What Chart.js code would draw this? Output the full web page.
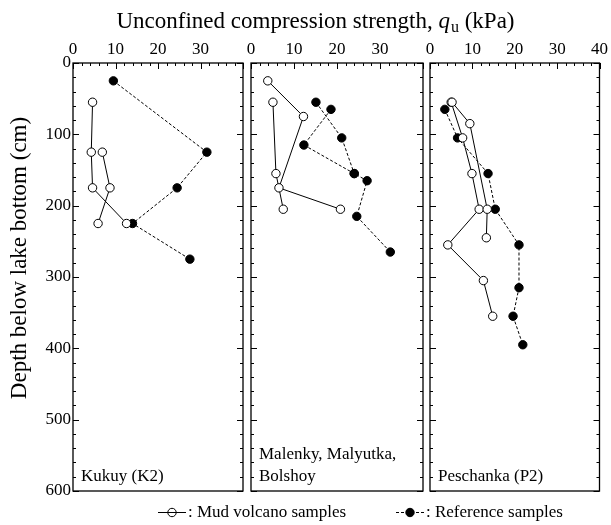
<!DOCTYPE html>
<html>
<head>
<meta charset="utf-8">
<script src="https://cdn.jsdelivr.net/npm/chart.js@4"></script>
<style>
  body { margin: 0; background: #fff; }
  #wrap { position: relative; width: 611px; height: 525px; }
  #wrap canvas { position: absolute; left: 0; top: 0; }
</style>
</head>
<body>
<div id="wrap">
  <canvas id="p1" width="611" height="525"></canvas>
  <canvas id="p2" width="611" height="525"></canvas>
  <canvas id="p3" width="611" height="525"></canvas>
</div>
<script>
// axis ticks
const quTicks = [0, 10, 20, 30, 40];
const depthTicks = [0, 100, 200, 300, 400, 500, 600];

// Kukuy (K2)
const k2MudDepthA = [55, 125, 175, 225];
const k2MudQuA = [4.6, 4.3, 4.6, 12.6];
const k2MudDepthB = [125, 175, 225];
const k2MudQuB = [6.9, 8.7, 5.9];
const k2RefDepth = [25, 125, 175, 225, 275];
const k2RefQu = [9.5, 31.5, 24.5, 14, 27.5];

// Malenky, Malyutka, Bolshoy
const mmbMudDepthA = [25, 75, 175, 205];
const mmbMudQuA = [3.9, 12.2, 6.5, 20.8];
const mmbMudDepthB = [55, 155, 205];
const mmbMudQuB = [5.1, 5.8, 7.5];
const mmbRefDepthA = [55, 105, 155];
const mmbRefQuA = [15.1, 21.1, 24];
const mmbRefDepthB = [65, 115, 155, 165, 215, 265];
const mmbRefQuB = [18.6, 12.3, 24, 27, 24.6, 32.4];

// Peschanka (P2)
const p2MudDepthA = [55, 85, 205, 245];
const p2MudQuA = [5.2, 9.4, 13.5, 13.3];
const p2MudDepthB = [55, 105, 155, 205, 255, 305, 355];
const p2MudQuB = [5.0, 7.7, 9.9, 11.6, 4.2, 12.6, 14.8];
const p2RefDepth = [65, 105, 155, 205, 255, 315, 355, 395];
const p2RefQu = [3.5, 6.5, 13.7, 15.4, 21, 21, 19.6, 21.9];

const serif = '"Liberation Serif", "Times New Roman", serif';

function pts(qu, depth) {
    return qu.map((q, i) => ({ x: q, y: depth[i] }));
}

function mud(qu, depth) {
    return {
        label: 'Mud volcano samples',
        data: pts(qu, depth),
        borderColor: '#000',
        borderWidth: 1,
        pointRadius: 4.2,
        pointBorderWidth: 1,
        pointBackgroundColor: '#fff',
        pointBorderColor: '#000',
        tension: 0
    };
}

function ref(qu, depth) {
    return {
        label: 'Reference samples',
        data: pts(qu, depth),
        borderColor: '#000',
        borderWidth: 1,
        borderDash: [3, 2],
        pointRadius: 4.2,
        pointBorderWidth: 1,
        pointBackgroundColor: '#000',
        pointBorderColor: '#000',
        tension: 0
    };
}

// box + inward ticks + site name
const frame = {
    id: 'frame',
    afterDatasetsDraw(chart) {
        const { ctx, chartArea: a, scales: { x, y } } = chart;
        ctx.save();
        ctx.strokeStyle = '#000';
        ctx.lineWidth = 1.3;
        ctx.strokeRect(a.left, a.top, a.right - a.left, a.bottom - a.top);
        ctx.lineWidth = 1;
        ctx.beginPath();
        for (let v = 0; v <= 40; v += 2) {
            const px = Math.round(x.getPixelForValue(v)) + 0.5;
            const len = v % 10 === 0 ? 6 : 3;
            ctx.moveTo(px, a.top);
            ctx.lineTo(px, a.top + len);
        }
        for (let d = 0; d <= 600; d += 20) {
            const py = Math.round(y.getPixelForValue(d)) + 0.5;
            const len = d % 100 === 0 ? 6 : 3;
            ctx.moveTo(a.left, py);
            ctx.lineTo(a.left + len, py);
            ctx.moveTo(a.right, py);
            ctx.lineTo(a.right - len, py);
        }
        ctx.stroke();

        const lines = chart.options.plugins.frame.lines;
        ctx.fillStyle = '#000';
        ctx.font = '17px ' + serif;
        ctx.textBaseline = 'alphabetic';
        lines.forEach((t, i) => {
            ctx.fillText(t, a.left + 8, a.bottom - 10 - (lines.length - 1 - i) * 22);
        });
        ctx.restore();
    }
};

// overall titles and legend, drawn once on the first panel
const decor = {
    id: 'decor',
    afterDraw(chart) {
        const ctx = chart.ctx;
        ctx.save();
        ctx.fillStyle = '#000';
        ctx.textBaseline = 'alphabetic';
        const big = '23px ' + serif;
        const ital = 'italic 23px ' + serif;
        const sub = '16px ' + serif;
        const t1 = 'Unconfined compression strength, ';
        const t2 = ' (kPa)';
        ctx.font = big; const w1 = ctx.measureText(t1).width, w3 = ctx.measureText(t2).width;
        ctx.font = ital; const wq = ctx.measureText('q').width;
        ctx.font = sub; const wu = ctx.measureText('u').width;
        let x0 = 315 - (w1 + wq + wu + w3) / 2;
        const base = 28;
        ctx.font = big; ctx.fillText(t1, x0, base); x0 += w1;
        ctx.font = ital; ctx.fillText('q', x0, base); x0 += wq;
        ctx.font = sub; ctx.fillText('u', x0 + 1, base + 4); x0 += wu + 1;
        ctx.font = big; ctx.fillText(t2, x0, base);

        // y title
        ctx.save();
        ctx.translate(20, 258);
        ctx.rotate(-Math.PI / 2);
        ctx.textAlign = 'center';
        ctx.textBaseline = 'middle';
        ctx.font = '23px ' + serif;
        ctx.fillText('Depth below lake bottom (cm)', 0, 0);
        ctx.restore();

        // legend
        const ly = 512;
        const ds = chart.data.datasets;
        const mudDs = ds.find(d => d.label === 'Mud volcano samples');
        const refDs = ds.find(d => d.label === 'Reference samples');
        ctx.font = '17px ' + serif;
        ctx.textBaseline = 'middle';
        const items = [[mudDs, 158, 186], [refDs, 396, 424]];
        for (const [d, xa, xb] of items) {
            ctx.strokeStyle = d.borderColor;
            ctx.lineWidth = 1;
            ctx.setLineDash(d.borderDash || []);
            ctx.beginPath(); ctx.moveTo(xa, ly + 0.5); ctx.lineTo(xb, ly + 0.5); ctx.stroke();
            ctx.setLineDash([]);
            ctx.beginPath(); ctx.arc((xa + xb) / 2, ly + 0.5, d.pointRadius, 0, Math.PI * 2);
            if (d.pointBackgroundColor === '#000') { ctx.fillStyle = '#000'; ctx.fill(); }
            ctx.stroke();
            ctx.fillStyle = '#000';
            ctx.fillText(': ' + d.label, xb + 2, ly + 1);
        }
        ctx.restore();
    }
};

function panel(id, datasets, left, right, lines, first, last) {
    return new Chart(document.getElementById(id), {
        type: 'line',
        data: { datasets: datasets },
        plugins: first ? [frame, decor] : [frame],
        options: {
            responsive: false,
            animation: false,
            layout: { padding: { left: first ? 0 : left, right: 611 - right, top: 0, bottom: 34 } },
            plugins: {
                legend: { display: false },
                tooltip: { enabled: false },
                frame: { lines: lines }
            },
            scales: {
                x: {
                    type: 'linear',
                    position: 'top',
                    min: 0,
                    max: 40,
                    afterBuildTicks: s => { s.ticks = quTicks.map(v => ({ value: v })); },
                    afterFit: s => { s.height = 63; },
                    ticks: {
                        color: '#000',
                        font: { family: serif, size: 17 },
                        padding: 3,
                        maxRotation: 0,
                        callback: v => (v === 40 && !last) ? '' : String(v)
                    },
                    grid: { display: false, drawTicks: false },
                    border: { display: false }
                },
                y: {
                    type: 'linear',
                    display: first,
                    reverse: true,
                    min: 0,
                    max: 600,
                    afterBuildTicks: s => { s.ticks = depthTicks.map(v => ({ value: v })); },
                    afterFit: s => { if (first) s.width = left; },
                    ticks: {
                        color: '#000',
                        font: { family: serif, size: 17 },
                        padding: 2
                    },
                    grid: { display: false, drawTicks: false },
                    border: { display: false }
                }
            }
        }
    });
}

panel('p1', [mud(k2MudQuA, k2MudDepthA), mud(k2MudQuB, k2MudDepthB), ref(k2RefQu, k2RefDepth)],
      73, 243, ['Kukuy (K2)'], true, false);
panel('p2', [mud(mmbMudQuA, mmbMudDepthA), mud(mmbMudQuB, mmbMudDepthB),
             ref(mmbRefQuA, mmbRefDepthA), ref(mmbRefQuB, mmbRefDepthB)],
      251, 423, ['Malenky, Malyutka,', 'Bolshoy'], false, false);
panel('p3', [mud(p2MudQuA, p2MudDepthA), mud(p2MudQuB, p2MudDepthB), ref(p2RefQu, p2RefDepth)],
      430, 603, ['Peschanka (P2)'], false, true);
</script>
</body>
</html>
